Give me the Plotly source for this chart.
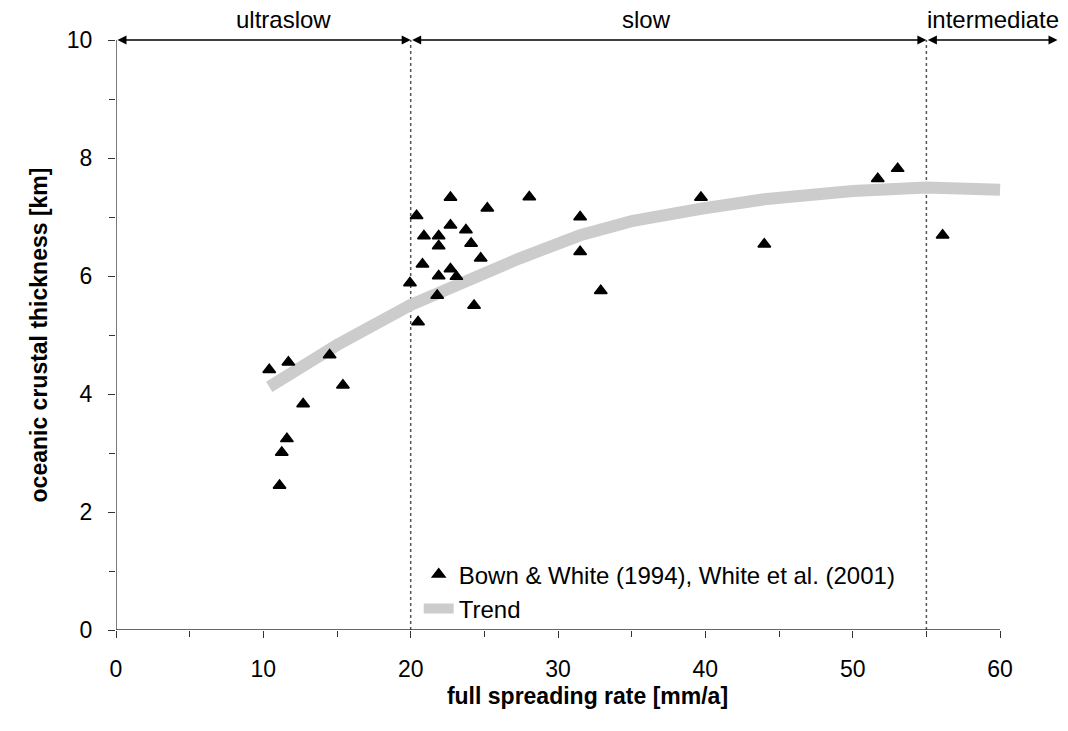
import plotly.graph_objects as go

# --- data -------------------------------------------------------------
rate = [10.4, 11.7, 14.5, 15.4, 12.7, 11.6, 11.25, 11.1,
        22.7, 28.05, 25.2, 20.4, 31.5, 22.7, 23.75, 20.9, 21.9, 21.9,
        24.1, 31.5, 24.75, 20.8, 22.7, 21.9, 23.1, 19.95, 21.8, 32.9,
        24.3, 20.5, 39.7, 44.0, 51.7, 53.05, 56.1]
thickness = [4.41, 4.54, 4.66, 4.15, 3.83, 3.24, 3.01, 2.45,
             7.33, 7.34, 7.15, 7.02, 7.0, 6.86, 6.78, 6.68, 6.68, 6.51,
             6.55, 6.41, 6.30, 6.2, 6.12, 6.0, 5.99, 5.88, 5.67, 5.75,
             5.5, 5.22, 7.33, 6.54, 7.65, 7.82, 6.69]

trend_x = [10.4, 15, 20, 25, 27.4, 31.5, 35, 39.7, 44, 50, 55, 60]
trend_y = [4.12, 4.83, 5.51, 6.05, 6.3, 6.69, 6.93, 7.14, 7.3, 7.44, 7.5, 7.46]

regimes = ["ultraslow", "slow", "intermediate"]
regime_bounds = [(0, 20), (20, 55), (55, 63.9)]
regime_label_x = [11.4, 36.0, 59.5]
boundaries = [20, 55]

x_ticks = [0, 10, 20, 30, 40, 50, 60]
y_ticks = [0, 2, 4, 6, 8, 10]

FONT = "Liberation Sans, Arial, sans-serif"

fig = go.Figure()

fig.add_trace(go.Scatter(
    x=trend_x, y=trend_y, mode="lines", name="Trend",
    line=dict(color="#cccccc", width=12), legendrank=2))

fig.add_trace(go.Scatter(
    x=rate, y=thickness, mode="markers",
    name="Bown & White (1994), White et al. (2001)",
    marker=dict(symbol="triangle-up", size=11, color="black",
                line=dict(color="black", width=1.5)),
    legendrank=1))

# dotted boundaries
for b in boundaries:
    fig.add_shape(type="line", x0=b, x1=b, y0=0, y1=10, xref="x", yref="y",
                  line=dict(color="#555555", width=1.5, dash="dot"), layer="below")

# x axis line only from 0 to 60
fig.add_shape(type="line", x0=0, x1=60, y0=0, y1=0, xref="x", yref="y",
              line=dict(color="#333333", width=1.3))
# y axis line
fig.add_shape(type="line", x0=0, x1=0, y0=0, y1=10, xref="x", yref="y",
              line=dict(color="#333333", width=1.3))

# regime arrows + labels
for name, (a, b), lx in zip(regimes, regime_bounds, regime_label_x):
    fig.add_annotation(x=b, y=10, ax=a, ay=10, xref="x", yref="y",
                       axref="x", ayref="y", text="", showarrow=True,
                       arrowhead=2, startarrowhead=2, arrowside="end+start",
                       arrowsize=1.2, arrowwidth=1.5, arrowcolor="black",
                       standoff=0, startstandoff=0)
    fig.add_annotation(x=lx, y=10, xref="x", yref="y", text=name,
                       showarrow=False, yshift=21,
                       font=dict(family=FONT, size=24, color="black"))

fig.update_layout(
    width=1068, height=731,
    margin=dict(l=116, r=9, t=40, b=101),
    paper_bgcolor="white", plot_bgcolor="white",
    font=dict(family=FONT, size=23, color="black"),
    showlegend=True,
    legend=dict(x=0.321, y=0.132, xanchor="left", yanchor="top",
                bgcolor="rgba(0,0,0,0)", font=dict(size=24),
                itemwidth=30, tracegroupgap=0),
    xaxis=dict(range=[0, 64], showline=False, showgrid=False, zeroline=False,
               tickvals=x_ticks, ticks="outside", ticklen=7, tickwidth=1.3,
               tickcolor="#333333", ticklabelstandoff=11,
               tickfont=dict(size=23),
               minor=dict(tickvals=[5, 15, 25, 35, 45, 55], ticks="outside",
                          ticklen=6, tickwidth=1.3, tickcolor="#333333"),
               title=dict(text="<b>full spreading rate [mm/a]</b>",
                          font=dict(size=23), standoff=7)),
    yaxis=dict(range=[0, 10], showline=False, showgrid=False, zeroline=False,
               tickvals=y_ticks, ticks="outside", ticklen=7, tickwidth=1.3,
               tickcolor="#333333", ticklabelstandoff=11,
               tickfont=dict(size=23),
               minor=dict(tickvals=[1, 3, 5, 7, 9], ticks="outside",
                          ticklen=6, tickwidth=1.3, tickcolor="#333333"),
               title=dict(text="<b>oceanic crustal thickness [km]</b>",
                          font=dict(size=23), standoff=12)),
)

fig.write_html("out.html")
